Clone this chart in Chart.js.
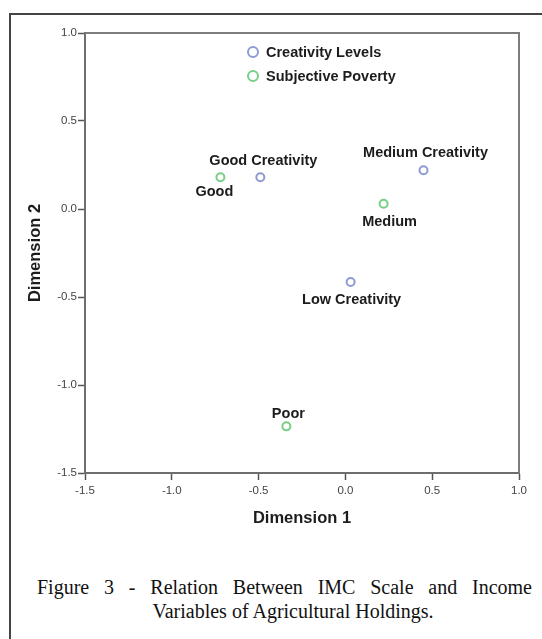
<!DOCTYPE html>
<html>
<head>
<meta charset="utf-8">
<script src="https://cdn.jsdelivr.net/npm/chart.js@4/dist/chart.umd.min.js"></script>
<style>
  html, body { margin: 0; padding: 0; background: #ffffff; }
  body { width: 542px; height: 639px; position: relative; overflow: hidden; }
  #frame {
    position: absolute; left: 9px; top: 13px; width: 560px; height: 660px;
    border-top: 2px solid #444; border-left: 2px solid #444;
  }
  #plot { position: absolute; left: 0; top: 0; }
  .caption {
    position: absolute; font-family: "Liberation Serif", "Times New Roman", serif;
    font-size: 20px; line-height: 24px; color: #111; white-space: nowrap;
  }
  #cap1 { left: 37px; width: 495px; top: 575px; text-align: justify; text-align-last: justify; white-space: normal; }
  #cap2 { left: 142px; width: 302px; top: 599px; text-align: center; }
</style>
</head>
<body>
<div id="frame"></div>
<canvas id="plot" width="542" height="545"></canvas>
<div class="caption" id="cap1">Figure 3 - Relation Between IMC Scale and Income</div>
<div class="caption" id="cap2">Variables of Agricultural Holdings.</div>
<script>
// Joint category plot: object scores on two dimensions
const seriesNames = ['Creativity Levels', 'Subjective Poverty'];

const creativityLabels = ['Good Creativity', 'Medium Creativity', 'Low Creativity'];
const creativityDim1 = [-0.49, 0.45, 0.03];
const creativityDim2 = [0.18, 0.22, -0.415];

const povertyLabels = ['Good', 'Medium', 'Poor'];
const povertyDim1 = [-0.72, 0.22, -0.34];
const povertyDim2 = [0.18, 0.03, -1.235];

const axisTicks = [-1.5, -1.0, -0.5, 0.0, 0.5, 1.0];

// label offsets (pixels) relative to each marker
const creativityLabelDx = [3, 2, 1];
const creativityLabelDy = [-16, -17, 18];
const povertyLabelDx = [-6, 6, 2];
const povertyLabelDy = [15, 18, -12];

const BLUE = '#8e9bd2';
const GREEN = '#78cf86';
const TEXT = '#1c1c1c';
const BOLD = 'bold 14.5px "Liberation Sans", Arial, sans-serif';

function toPoints(xs, ys) {
  return xs.map((x, i) => ({ x: x, y: ys[i] }));
}

const pointLabelPlugin = {
  id: 'pointLabels',
  afterDatasetsDraw(chart) {
    const ctx = chart.ctx;
    ctx.save();
    ctx.font = BOLD;
    ctx.fillStyle = TEXT;
    ctx.textAlign = 'center';
    ctx.textBaseline = 'middle';
    chart.data.datasets.forEach((ds, di) => {
      const meta = chart.getDatasetMeta(di);
      meta.data.forEach((el, i) => {
        ctx.fillText(ds.pointNames[i], el.x + ds.labelDx[i], el.y + ds.labelDy[i]);
      });
    });
    ctx.restore();
  }
};

const frameLegendPlugin = {
  id: 'frameLegend',
  beforeDatasetsDraw(chart) {
    const { ctx, chartArea: a } = chart;
    ctx.save();
    ctx.strokeStyle = '#7d7d7d';
    ctx.lineWidth = 2;
    ctx.beginPath();
    ctx.moveTo(a.left, a.top);
    ctx.lineTo(a.right, a.top);
    ctx.lineTo(a.right, a.bottom);
    ctx.stroke();
    ctx.restore();
  },
  afterDraw(chart) {
    const { ctx, chartArea: a } = chart;
    ctx.save();
    ctx.font = BOLD;
    ctx.textBaseline = 'middle';
    ctx.textAlign = 'left';
    chart.data.datasets.forEach((ds, i) => {
      const cx = a.left + 168;
      const cy = a.top + 19 + i * 24;
      ctx.beginPath();
      ctx.arc(cx, cy, 5, 0, Math.PI * 2);
      ctx.strokeStyle = ds.borderColor;
      ctx.lineWidth = 2;
      ctx.stroke();
      ctx.fillStyle = TEXT;
      ctx.fillText(ds.label, cx + 13, cy + 1);
    });
    ctx.restore();
  }
};

const tickFont = { family: '"Liberation Sans", Arial, sans-serif', size: 11.5 };
const titleFont = { family: '"Liberation Sans", Arial, sans-serif', size: 16.5, weight: 'bold' };

function axis(title, extra) {
  return Object.assign({
    type: 'linear',
    min: -1.5,
    max: 1.0,
    afterBuildTicks(scale) { scale.ticks = axisTicks.map(v => ({ value: v })); },
    ticks: {
      color: '#444',
      font: tickFont,
      padding: 4,
      callback: v => Number(v).toFixed(1)
    },
    grid: {
      display: true,
      drawOnChartArea: false,
      drawTicks: true,
      tickLength: 7,
      tickWidth: 1.5,
      tickColor: '#555'
    },
    border: { display: true, color: '#6e6e6e', width: 2 },
    title: { display: true, text: title, color: TEXT, font: titleFont }
  }, extra);
}

new Chart(document.getElementById('plot'), {
  type: 'scatter',
  data: {
    datasets: [
      {
        label: seriesNames[0],
        data: toPoints(creativityDim1, creativityDim2),
        pointNames: creativityLabels,
        labelDx: creativityLabelDx,
        labelDy: creativityLabelDy,
        borderColor: BLUE,
        backgroundColor: 'rgba(255,255,255,0)',
        pointRadius: 4,
        pointBorderWidth: 2
      },
      {
        label: seriesNames[1],
        data: toPoints(povertyDim1, povertyDim2),
        pointNames: povertyLabels,
        labelDx: povertyLabelDx,
        labelDy: povertyLabelDy,
        borderColor: GREEN,
        backgroundColor: 'rgba(255,255,255,0)',
        pointRadius: 4,
        pointBorderWidth: 2
      }
    ]
  },
  options: {
    responsive: false,
    animation: false,
    events: [],
    layout: { padding: { left: 22, top: 33, right: 23, bottom: 13 } },
    plugins: { legend: { display: false }, tooltip: { enabled: false } },
    scales: {
      x: axis('Dimension 1', {
        position: 'bottom',
        afterFit(scale) { scale.height = 59; }
      }),
      y: axis('Dimension 2', {
        position: 'left',
        ticks: {
          color: '#444',
          font: tickFont,
          padding: 1,
          callback: v => Number(v).toFixed(1)
        },
        afterFit(scale) { scale.width = 63; }
      })
    }
  },
  plugins: [frameLegendPlugin, pointLabelPlugin]
});
</script>
</body>
</html>
